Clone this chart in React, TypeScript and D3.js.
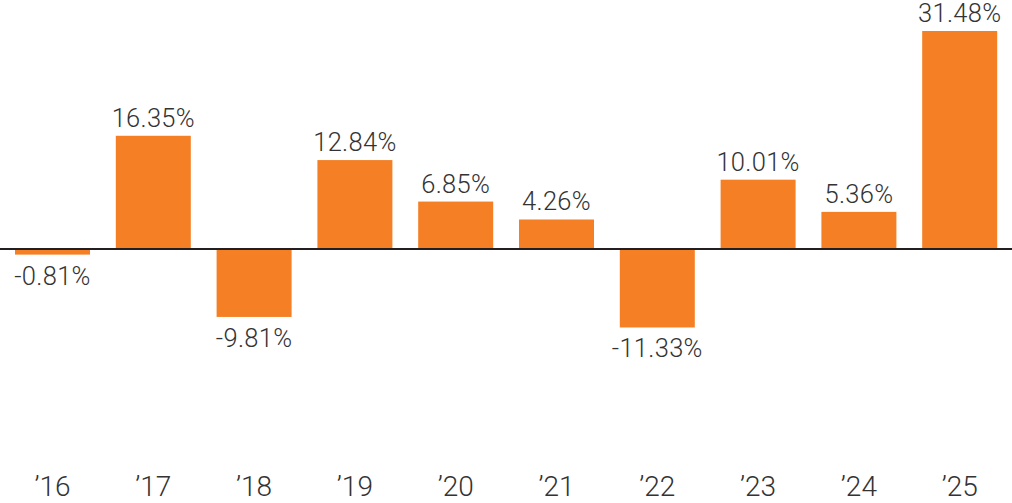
import React from "react";
import * as d3 from "d3";

const years = ["\u201916", "\u201917", "\u201918", "\u201919", "\u201920", "\u201921", "\u201922", "\u201923", "\u201924", "\u201925"];
const returns = [-0.81, 16.35, -9.81, 12.84, 6.85, 4.26, -11.33, 10.01, 5.36, 31.48];

const W = 1012;
const H = 503;

export default function App() {
  const x = d3.scaleBand<string>().domain(years).range([2.1, 1010.1]).paddingInner(0.256).paddingOuter(0.128);
  const y = d3.scaleLinear().domain([0, 31.48]).range([249, 31]);
  const fmt = (v: number) => `${v.toFixed(2)}%`;
  const font = "Roboto, 'Liberation Sans', Arial, sans-serif";
  return (
    <svg width={W} height={H} style={{ position: "absolute", left: 0, top: 0, background: "#fff" }}>
      {years.map((yr, i) => {
        const v = returns[i];
        const x0 = x(yr)!;
        const bw = x.bandwidth();
        const top = Math.min(y(v), y(0));
        const h = Math.abs(y(v) - y(0));
        const cx = x0 + bw / 2;
        return (
          <g key={yr}>
            <rect x={x0} y={top} width={bw} height={h} fill="#F47F24" />
            <text
              x={cx}
              y={v >= 0 ? y(v) - 9 : y(v) + 30}
              textAnchor="middle"
              fontFamily={font}
              fontWeight={300}
              fontSize={25.5}
              letterSpacing={0.3}
              fill="#333"
            >
              {fmt(v)}
            </text>
            <text x={cx} y={496} textAnchor="middle" fontFamily={font} fontWeight={300} fontSize={28} fill="#333">
              {yr}
            </text>
          </g>
        );
      })}
      <line x1={0} x2={W} y1={y(0)} y2={y(0)} stroke="#231f20" strokeWidth={2} />
    </svg>
  );
}
